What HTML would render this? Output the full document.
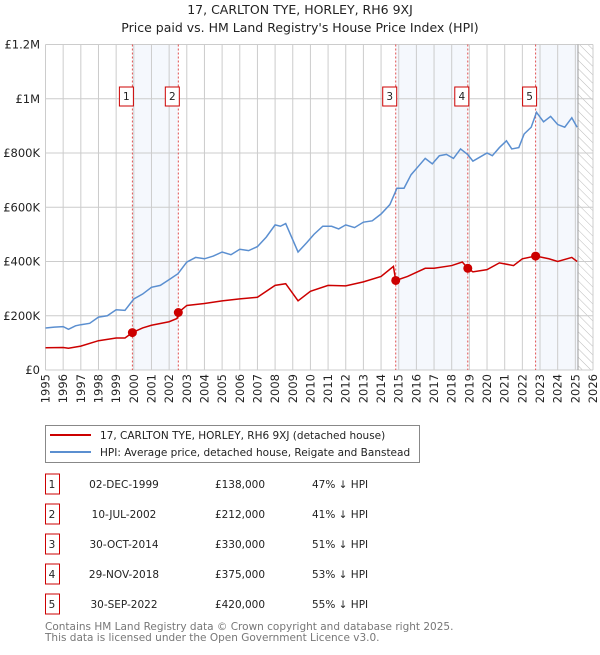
<!DOCTYPE html>
<html><head><meta charset="utf-8">
<style>
body{margin:0;background:#fff;font-family:"Liberation Sans","DejaVu Sans",sans-serif;}
svg text{font-family:"DejaVu Sans","Liberation Sans",sans-serif;}
</style></head>
<body>
<svg id="c" width="600" height="650" xmlns="http://www.w3.org/2000/svg">
<defs>
<pattern id="hatch" width="6" height="6" patternUnits="userSpaceOnUse" patternTransform="rotate(-45)">
<line x1="0" y1="0" x2="0" y2="6" stroke="#bbb" stroke-width="1"/></pattern>
</defs>
<text x="300" y="14" text-anchor="middle" font-size="12.5" fill="#222">17, CARLTON TYE, HORLEY, RH6 9XJ</text>
<text x="300" y="32" text-anchor="middle" font-size="12.5" fill="#222">Price paid vs. HM Land Registry's House Price Index (HPI)</text>
<g id="plot"></g>
<g id="legend">
<rect x="45.5" y="425.5" width="374" height="37" fill="#fff" stroke="#888"/>
<line x1="50" y1="435" x2="91" y2="435" stroke="#cc0000" stroke-width="2"/>
<text x="100" y="439" font-size="10.5" fill="#222">17, CARLTON TYE, HORLEY, RH6 9XJ (detached house)</text>
<line x1="50" y1="452" x2="91" y2="452" stroke="#5b8fd0" stroke-width="2"/>
<text x="100" y="456" font-size="10.5" fill="#222">HPI: Average price, detached house, Reigate and Banstead</text>
</g>
<g id="table"></g>
<text x="45" y="630" font-size="10.5" fill="#777">Contains HM Land Registry data © Crown copyright and database right 2025.</text>
<text x="45" y="641" font-size="10.5" fill="#777">This data is licensed under the Open Government Licence v3.0.</text>
</svg>
<script>
const hpiYears=[1995,1995.5,1996,1996.3,1996.7,1997,1997.5,1998,1998.5,1999,1999.5,2000,2000.5,2001,2001.5,2002,2002.5,2003,2003.5,2004,2004.5,2005,2005.5,2006,2006.5,2007,2007.5,2008,2008.3,2008.6,2009,2009.3,2009.8,2010.2,2010.7,2011.2,2011.6,2012,2012.5,2013,2013.5,2014,2014.5,2014.9,2015.3,2015.7,2016.1,2016.5,2016.9,2017.3,2017.7,2018.1,2018.5,2018.9,2019.2,2019.6,2020,2020.3,2020.7,2021.1,2021.4,2021.8,2022.1,2022.5,2022.8,2023.2,2023.6,2024,2024.4,2024.8,2025.1];
const hpiValues=[155,158,160,150,163,167,172,195,200,222,220,262,280,305,312,333,355,398,415,410,420,435,425,445,440,455,490,535,530,540,480,435,470,500,530,530,520,535,525,545,550,575,610,670,670,720,750,780,760,790,795,780,815,795,770,785,800,790,820,845,815,820,870,895,950,915,935,905,895,930,895];
const propYears=[1995,1996,1996.3,1997,1998,1999,1999.5,1999.92,2000.5,2001,2002,2002.45,2002.52,2003,2004,2005,2006,2007,2008,2008.6,2009.3,2010,2011,2012,2013,2014,2014.7,2014.83,2015.5,2016.5,2017,2018,2018.6,2018.91,2019.2,2020,2020.7,2021.5,2022,2022.75,2023.5,2024,2024.8,2025.1];
const propValues=[82,83,80,88,108,118,118,138,155,165,178,190,212,238,245,255,262,268,312,318,255,290,312,310,325,345,382,330,345,375,375,385,398,375,362,370,395,385,410,420,410,400,415,400];
const saleLabels=["1","2","3","4","5"];
const saleYears=[1999.92,2002.52,2014.83,2018.91,2022.75];
const saleValues=[138,212,330,375,420];
const saleDates=["02-DEC-1999","10-JUL-2002","30-OCT-2014","29-NOV-2018","30-SEP-2022"];
const salePrices=["£138,000","£212,000","£330,000","£375,000","£420,000"];
const saleDiffs=["47% ↓ HPI","41% ↓ HPI","51% ↓ HPI","53% ↓ HPI","55% ↓ HPI"];
const yTicks=[0,200,400,600,800,1000,1200];
const yTickLabels=["£0","£200K","£400K","£600K","£800K","£1M","£1.2M"];
const dataEnd=2025.15;

const NS="http://www.w3.org/2000/svg";
const X0=45.5,X1=593,Y0=370,Y1=44.5;
const xs=y=>X0+(y-1995)/(2026-1995)*(X1-X0);
const ys=v=>Y0-v/1200*(Y0-Y1);
const plot=document.getElementById('plot');
function mk(tag,attrs,parent){const e=document.createElementNS(NS,tag);for(const k in attrs)e.setAttribute(k,attrs[k]);(parent||plot).appendChild(e);return e;}
[[0,1],[2,3]].forEach(p=>{const r=mk('rect',{x:xs(saleYears[p[0]]),y:Y1,width:xs(saleYears[p[1]])-xs(saleYears[p[0]]),height:Y0-Y1,fill:'#eef3fc',opacity:0.6});

});
const r5=mk('rect',{x:xs(saleYears[4]),y:Y1,width:xs(dataEnd)-xs(saleYears[4]),height:Y0-Y1,fill:'#eef3fc',opacity:0.6});


const h=mk('rect',{x:xs(dataEnd),y:Y1,width:X1-xs(dataEnd),height:Y0-Y1,fill:'url(#hatch)'});


for(let y=1995;y<=2026;y++){const l=mk('line',{x1:xs(y),x2:xs(y),y1:Y1,y2:Y0,stroke:'#ccc','stroke-width':1});


const t=mk('text',{x:0,y:0,'font-size':11.5,fill:'#222','text-anchor':'end',transform:`translate(${xs(y)+4},374) rotate(-90)`});t.textContent=y;

}
yTicks.forEach((v,i)=>{const l=mk('line',{x1:X0,x2:X1,y1:ys(v),y2:ys(v),stroke:'#ccc','stroke-width':1});


const t=mk('text',{x:40,y:ys(v)+4,'font-size':11.5,fill:'#222','text-anchor':'end'});t.textContent=yTickLabels[i];

});
const de=mk('line',{x1:xs(dataEnd),x2:xs(dataEnd),y1:Y1,y2:Y0,stroke:'#999','stroke-width':1});


saleYears.forEach((s,i)=>{const l=mk('line',{x1:xs(s),x2:xs(s),y1:Y1,y2:Y0,stroke:'#e05050','stroke-width':1,'stroke-dasharray':'2,2'});


const b=mk('rect',{x:xs(s)-13,y:87,width:14,height:19,fill:'#fff',stroke:'#cc0000','stroke-width':1});


const t=mk('text',{x:xs(s)-6,y:100,'font-size':10.5,fill:'#222','text-anchor':'middle'});t.textContent=saleLabels[i];

});
const hp=mk('polyline',{points:hpiYears.map((y,i)=>xs(y)+','+ys(hpiValues[i])).join(' '),fill:'none',stroke:'#5b8fd0','stroke-width':1.5});


const pp=mk('polyline',{points:propYears.map((y,i)=>xs(y)+','+ys(propValues[i])).join(' '),fill:'none',stroke:'#cc0000','stroke-width':1.5});


saleYears.forEach((s,i)=>{const c=mk('circle',{cx:xs(s),cy:ys(saleValues[i]),r:4.5,fill:'#cc0000'});

});
const tb=document.getElementById('table');
saleLabels.forEach((lab,i)=>{const yy=474+i*30;
const b=mk('rect',{x:45.5,y:yy,width:14,height:20,fill:'#fff',stroke:'#cc0000','stroke-width':1},tb);


const cols=[[52,lab,'middle'],[124,saleDates[i],'middle'],[240,salePrices[i],'middle'],[312,saleDiffs[i],'start']];
cols.forEach((c,j)=>{const t=mk('text',{x:c[0],y:yy+14,'font-size':10.5,fill:'#222','text-anchor':c[2]},tb);t.textContent=c[1];

});});
</script>
</body></html>
